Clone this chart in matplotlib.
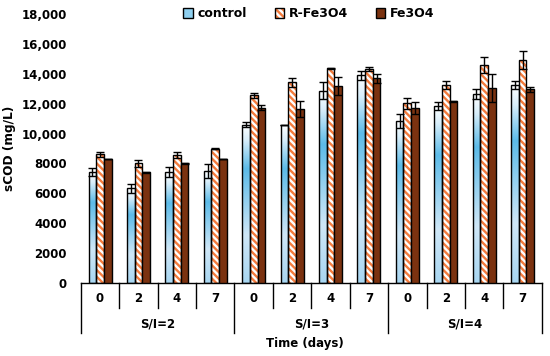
import numpy as np
import matplotlib
matplotlib.use("Agg")
import matplotlib.pyplot as plt
from matplotlib.patches import Patch
from matplotlib.colors import LinearSegmentedColormap
from matplotlib.ticker import FuncFormatter

# ---------------- data ----------------
groups = ["S/I=2", "S/I=3", "S/I=4"]
days = ["0", "2", "4", "7"]
series_names = ["control", "R-Fe3O4", "Fe3O4"]

control = [7450, 6350, 7400, 7500, 10600, 10570, 12860, 13900, 10840, 11840, 12640, 13240]
control_err = [260, 300, 330, 470, 150, 30, 580, 290, 450, 290, 310, 290]
r_fe3o4 = [8600, 8000, 8560, 8990, 12550, 13420, 14360, 14310, 12020, 13240, 14580, 14920]
r_fe3o4_err = [180, 220, 220, 20, 190, 300, 50, 150, 380, 250, 510, 580]
fe3o4 = [8300, 7400, 8000, 8300, 11730, 11640, 13180, 13690, 11680, 12170, 13020, 12950]
fe3o4_err = [20, 20, 50, 20, 150, 550, 620, 290, 400, 30, 940, 180]

y_ticks = [0, 2000, 4000, 6000, 8000, 10000, 12000, 14000, 16000, 18000]

# ---------------- style ----------------
plt.rcParams['font.family'] = ['DejaVu Sans']
plt.rcParams['font.weight'] = 'bold'
plt.rcParams['hatch.linewidth'] = 1.7

orange = "#F47B3C"
brown = "#7B3210"
HATCH = "\\" * 5
grad = LinearSegmentedColormap.from_list(
    "g", [(0.0, "#a8d6f1"), (0.3, "#cfe7f7"), (0.72, "#5cbbe8"), (0.9, "#d8eefa"), (1.0, "#ffffff")])

fig = plt.figure(figsize=(5.5, 3.56), dpi=100)
ax = fig.add_axes([0.147, 0.205, 0.838, 0.756])

n = len(groups) * len(days)
x = np.arange(n)
w = 0.2

# control bars with vertical gradient
bars_c = ax.bar(x - w, control, w, facecolor="none", edgecolor="black", linewidth=1.0, zorder=3)
gimg = np.linspace(0, 1, 256).reshape(-1, 1)
for b in bars_c:
    x0, h = b.get_x(), b.get_height()
    ax.imshow(gimg, cmap=grad, origin="lower", aspect="auto",
              extent=(x0, x0 + w, 0, h), zorder=2, interpolation="bilinear")
ax.errorbar(x - w, control, yerr=control_err, fmt="none", ecolor="black",
            elinewidth=1.0, capsize=2.8, capthick=1.0, zorder=4)

# R-Fe3O4 hatched bars
ax.bar(x, r_fe3o4, w, facecolor="white", edgecolor=orange, hatch=HATCH, linewidth=0, zorder=2)
ax.bar(x, r_fe3o4, w, facecolor="none", edgecolor="black", linewidth=1.0, zorder=3)
ax.errorbar(x, r_fe3o4, yerr=r_fe3o4_err, fmt="none", ecolor="black",
            elinewidth=1.0, capsize=2.8, capthick=1.0, zorder=4)

# Fe3O4 bars
ax.bar(x + w, fe3o4, w, facecolor=brown, edgecolor="black", linewidth=1.0, zorder=3)
ax.errorbar(x + w, fe3o4, yerr=fe3o4_err, fmt="none", ecolor="black",
            elinewidth=1.0, capsize=2.8, capthick=1.0, zorder=4)

ax.set_xlim(-0.5, n - 0.5)
ax.set_ylim(0, 18000)
ax.set_yticks(y_ticks)
ax.yaxis.set_major_formatter(FuncFormatter(lambda v, p: f"{v:,.0f}" if v >= 10000 else f"{v:.0f}"))
ax.tick_params(axis="y", length=0, pad=10, labelsize=8.5)
ax.set_xticks([])
for s in ["top", "right", "left"]:
    ax.spines[s].set_visible(False)
ax.spines["bottom"].set_linewidth(1.0)

ax.set_ylabel("sCOD (mg/L)", fontsize=8.7, fontweight="bold", labelpad=4)

# multi-level category axis
trans = ax.get_xaxis_transform()
short_d, long_d = -0.093, -0.186
for i in range(n + 1):
    xb = i - 0.5
    depth = long_d if i % len(days) == 0 else short_d
    ax.plot([xb, xb], [0, depth], color="black", lw=1.0, transform=trans, clip_on=False)
for i in range(n):
    ax.text(i, -0.056, days[i % len(days)], transform=trans, ha="center", va="center",
            fontsize=8.5, fontweight="bold")
for gi, g in enumerate(groups):
    xc = gi * len(days) + (len(days) - 1) / 2
    ax.text(xc, -0.152, g, transform=trans, ha="center", va="center",
            fontsize=8.5, fontweight="bold")
ax.text(0.485, -0.223, "Time (days)", transform=ax.transAxes, ha="center", va="center",
        fontsize=8.5, fontweight="bold")

# legend
handles = [
    Patch(facecolor="#8fd0f0", edgecolor="black", linewidth=1.0),
    (Patch(facecolor="white", edgecolor=orange, hatch=HATCH, linewidth=0),
     Patch(facecolor="none", edgecolor="black", linewidth=1.0)),
    Patch(facecolor=brown, edgecolor="black", linewidth=1.0),
]
leg = fig.legend(handles, series_names, loc="center", bbox_to_anchor=(0.562, 0.961),
                 ncol=3, frameon=False, handlelength=0.75, handleheight=0.75,
                 handletextpad=0.4, columnspacing=2.2, prop={"weight": "bold", "size": 9})

fig.savefig("out.png", dpi=100)
